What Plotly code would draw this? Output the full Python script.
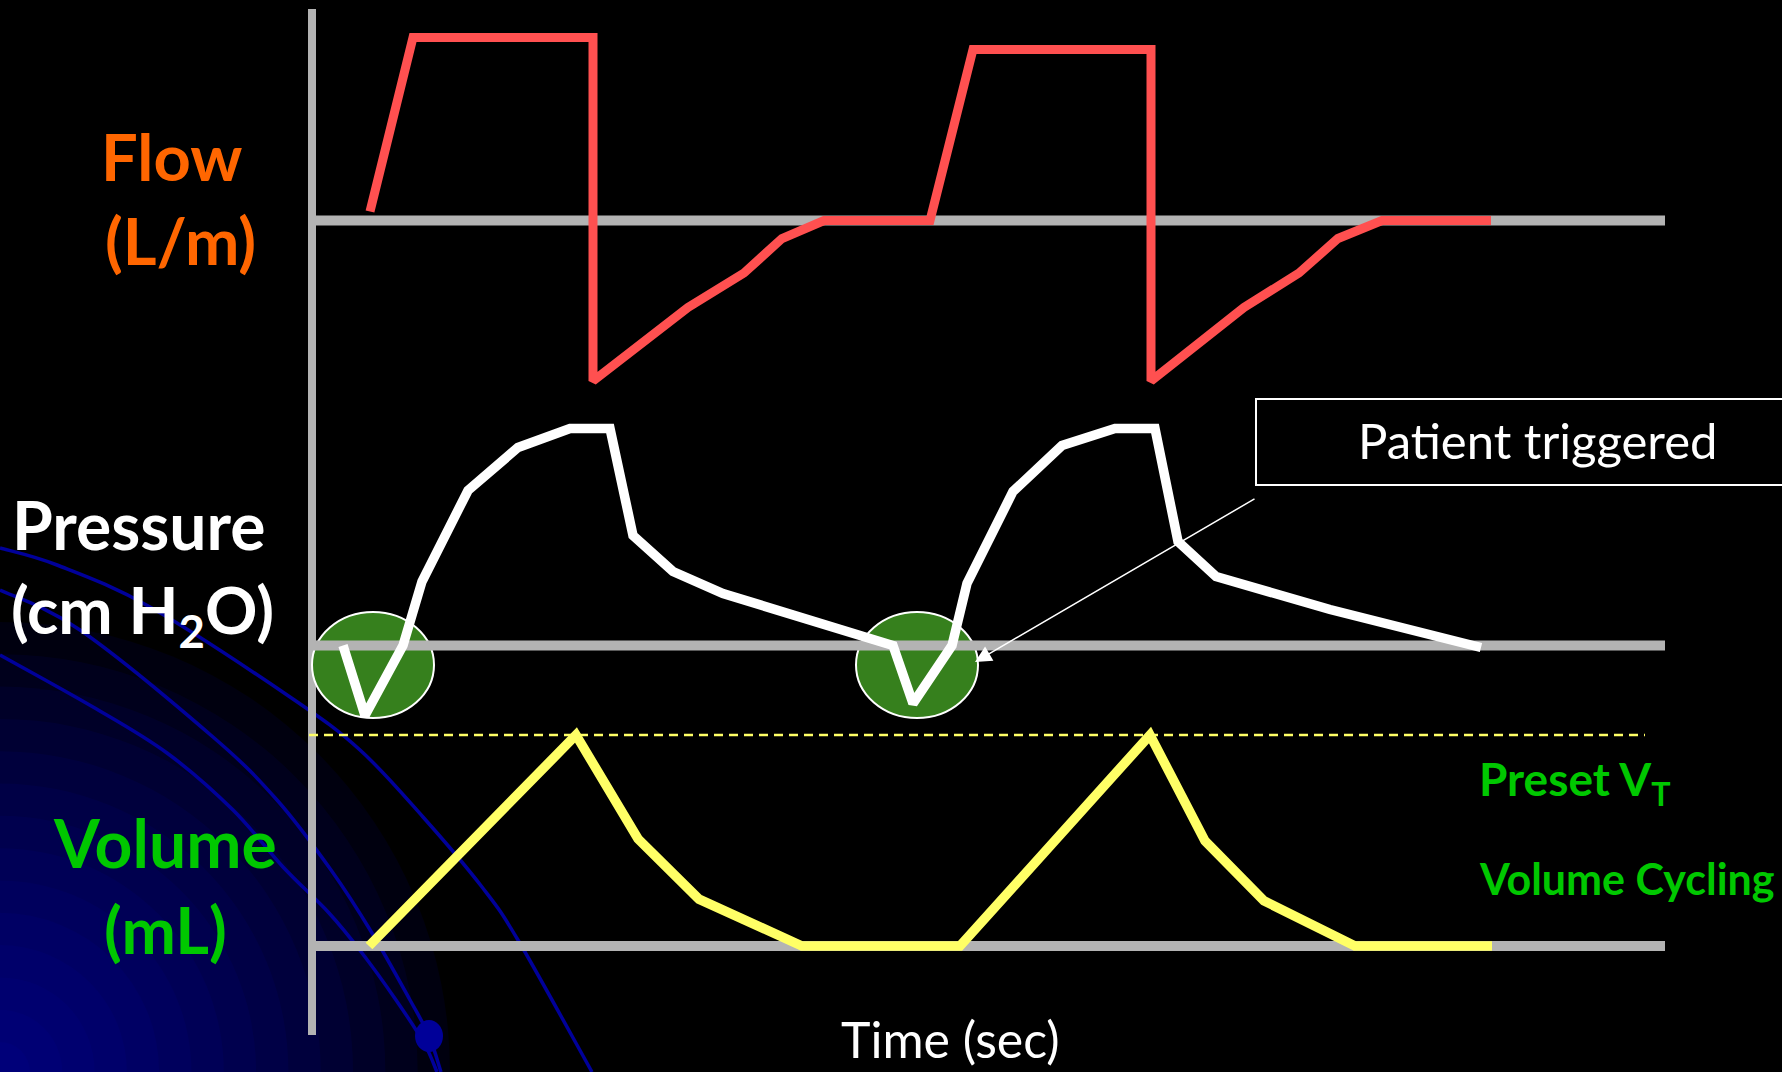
import plotly.graph_objects as go

# ---------------- data ----------------
# time in seconds (schematic), flow in L/min, pressure in cm H2O, volume in mL
flow_t = [0.58, 1.01, 2.81, 2.81, 3.76, 4.32, 4.70, 5.12, 6.18, 6.61, 8.39, 8.39, 9.32, 9.87, 10.26, 10.70, 11.79]
flow_v = [3, 61, 61, -53.5, -29, -17.5, -6, 0, 0, 57, 57, -53.5, -29, -17.5, -6, 0, 0]

pres_t = [0.31, 0.53, 0.91, 1.10, 1.56, 2.06, 2.58, 2.98, 3.21, 3.61, 4.11, 5.81,
          6.01, 6.40, 6.55, 7.01, 7.50, 8.03, 8.43, 8.66, 9.04, 10.18, 11.69]
pres_v = [0, -7.0, 0, 6.4, 15.5, 19.8, 21.7, 21.7, 11.0, 7.4, 5.2, 0,
          -5.8, 0, 6.2, 15.4, 20.0, 21.7, 21.7, 10.4, 6.9, 3.6, -0.2]

vol_t = [0.57, 2.64, 3.26, 3.87, 4.90, 6.48, 8.38, 8.93, 9.52, 10.43, 11.80]
vol_v = [0, 500, 254, 111, 0, 0, 500, 249, 107, 0, 0]

trigger_t = [0.61, 6.05]      # patient trigger events (pressure dips)
trigger_p = [-1.95, -1.95]
preset_vt = 500
time_end = 13.53

# ---------------- layout constants ----------------
W, H = 1782, 1072
X0_PX, PX_PER_S = 312, 100.0
FLOW_BASE, FLOW_K = 220.5, 3.0
PRES_BASE, PRES_K = 645.5, 10.0
VOL_BASE, VOL_K = 946.0, 0.422


def yrange(base, k):
    return [(base - H) / k, base / k]


def px(x):
    return x / W


def py(y):
    return 1 - y / H


RED = "#FF5050"
WHITE = "#FFFFFF"
YELLOW = "#FFFF66"
GRAY = "#B3B3B3"
GREEN_TXT = "#00C800"
ORANGE = "#FF6600"
NAVY = "#00009A"

fig = go.Figure()
fig.add_trace(go.Scatter(x=flow_t, y=flow_v, mode="lines", yaxis="y",
                         line=dict(color=RED, width=9), hoverinfo="skip"))
fig.add_trace(go.Scatter(x=pres_t, y=pres_v, mode="lines", yaxis="y2",
                         line=dict(color=WHITE, width=9.5), hoverinfo="skip"))
fig.add_trace(go.Scatter(x=vol_t, y=vol_v, mode="lines", yaxis="y3",
                         line=dict(color=YELLOW, width=9.5), hoverinfo="skip"))

shapes = []
# --- background decoration: navy glow in lower-left corner ---
n = 14
for i in range(n):
    r = 450 - i * (420 / (n - 1))
    shapes.append(dict(type="circle", xref="paper", yref="paper",
                       xsizemode="pixel", ysizemode="pixel", xanchor=0, yanchor=0,
                       x0=-r, x1=r, y0=-r, y1=r, fillcolor="rgba(0,0,170,0.085)",
                       line=dict(width=0), layer="below"))


def smooth_path(pts):
    P = [(px(a), py(b)) for a, b in pts]
    d = "M %.5f,%.5f" % P[0]
    for i in range(len(P) - 1):
        p0 = P[i - 1] if i > 0 else P[i]
        p1, p2 = P[i], P[i + 1]
        p3 = P[i + 2] if i + 2 < len(P) else P[i + 1]
        c1 = (p1[0] + (p2[0] - p0[0]) / 6, p1[1] + (p2[1] - p0[1]) / 6)
        c2 = (p2[0] - (p3[0] - p1[0]) / 6, p2[1] - (p3[1] - p1[1]) / 6)
        d += " C %.5f,%.5f %.5f,%.5f %.5f,%.5f" % (c1 + c2 + p2)
    return d


arcs = [
    [(0, 548), (57, 565), (150, 607), (290, 697), (360, 750), (423, 817), (482, 887), (518, 940), (592, 1072)],
    [(0, 590), (80, 630), (213, 737), (277, 800), (331, 870), (372, 933), (410, 1000), (429, 1036), (441, 1072)],
    [(0, 655), (93, 707), (167, 753), (233, 810), (283, 867), (329, 913), (362, 953), (396, 1000), (424, 1043), (437, 1072)],
]
for a in arcs:
    shapes.append(dict(type="path", xref="paper", yref="paper", path=smooth_path(a),
                       line=dict(color=NAVY, width=3.5), layer="below"))
shapes.append(dict(type="circle", xref="paper", yref="paper",
                   xsizemode="pixel", ysizemode="pixel", xanchor=px(429), yanchor=py(1036),
                   x0=-14, x1=14, y0=-16, y1=16, fillcolor="#000099",
                   line=dict(width=0), layer="below"))

# --- green trigger markers ---
for t, p in zip(trigger_t, trigger_p):
    shapes.append(dict(type="circle", xref="x", yref="y2",
                       x0=t - 0.61, x1=t + 0.61, y0=p - 5.3, y1=p + 5.3,
                       fillcolor="#36801D", line=dict(color=WHITE, width=2), layer="below"))

# --- baselines and time axis ---
for yref in ["y", "y2", "y3"]:
    shapes.append(dict(type="line", xref="x", yref=yref, x0=0, x1=time_end, y0=0, y1=0,
                       line=dict(color=GRAY, width=10), layer="below"))
shapes.append(dict(type="line", xref="x", yref="paper", x0=0, x1=0, y0=py(1035), y1=py(9),
                   line=dict(color=GRAY, width=8), layer="below"))
# --- preset tidal volume dashed line ---
shapes.append(dict(type="line", xref="x", yref="y3", x0=-0.03, x1=13.33, y0=preset_vt, y1=preset_vt,
                   line=dict(color=YELLOW, width=2.5, dash="9px,6px"), layer="below"))
# --- callout box ---
shapes.append(dict(type="rect", xref="paper", yref="paper", x0=px(1256), x1=px(1800),
                   y0=py(485), y1=py(399), fillcolor="black",
                   line=dict(color=WHITE, width=2), layer="below"))

ann = []


def label(text, x, y, size, color, bold=True, xanchor="center"):
    ann.append(dict(text=text, x=px(x), y=py(y), xref="paper", yref="paper",
                    xanchor=xanchor, yanchor="middle", showarrow=False,
                    font=dict(family="Lato", size=size, color=color,
                              weight="bold" if bold else "normal")))


label("Flow", 171, 156, 65, ORANGE)
label("(L/m)", 180, 240, 65, ORANGE)
label("Pressure", 138, 524, 66, WHITE)
label("(cm H<sub>2</sub>O)", 142, 614, 65, WHITE)
label("Volume", 165, 842, 66, GREEN_TXT)
label("(mL)", 165, 929, 65, GREEN_TXT)
label("Preset V<sub>T</sub>", 1477, 782, 46, GREEN_TXT, xanchor="left")
label("Volume Cycling", 1477, 878, 43, GREEN_TXT, xanchor="left")
label("Time (sec)", 950, 1039, 50, WHITE, bold=False)
label("Patient triggered", 1538, 440, 49, WHITE, bold=False)

# arrow from the callout box to the second trigger
ann.append(dict(x=(975 - X0_PX) / PX_PER_S, y=(PRES_BASE - 662) / PRES_K, xref="x", yref="y2",
                ax=(1256 - X0_PX) / PX_PER_S, ay=(PRES_BASE - 498) / PRES_K, axref="x", ayref="y2",
                showarrow=True, arrowhead=2, arrowsize=2.2, arrowwidth=1.5, arrowcolor=WHITE,
                text=""))

fig.update_layout(
    width=W, height=H, margin=dict(l=0, r=0, t=0, b=0),
    paper_bgcolor="black", plot_bgcolor="black", showlegend=False,
    xaxis=dict(domain=[0, 1], range=[-X0_PX / PX_PER_S, (W - X0_PX) / PX_PER_S], visible=False),
    yaxis=dict(domain=[0, 1], range=yrange(FLOW_BASE, FLOW_K), visible=False),
    yaxis2=dict(domain=[0, 1], range=yrange(PRES_BASE, PRES_K), visible=False, overlaying="y"),
    yaxis3=dict(domain=[0, 1], range=yrange(VOL_BASE, VOL_K), visible=False, overlaying="y"),
    shapes=shapes, annotations=ann,
)
fig.write_html("out.html", config={"displayModeBar": False},
               post_script="document.body.style.margin='0px';document.body.style.background='black';")
